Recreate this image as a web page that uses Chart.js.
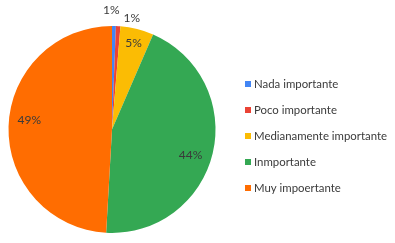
<!DOCTYPE html>
<html><head><meta charset="utf-8">
<script src="https://cdn.jsdelivr.net/npm/chart.js@4/dist/chart.umd.min.js"></script>
<style>html,body{margin:0;padding:0;background:#fff}#wrap{width:395px;height:243px;position:relative}</style>
</head><body><div id="wrap"><canvas id="c" width="395" height="243"></canvas></div>
<script>
const categories = ["Nada importante","Poco importante","Medianamente importante","Inmportante","Muy impoertante"];
const values = [0.6, 0.7, 5.2, 44.4, 49.1];
const valueLabels = ["1%","1%","5%","44%","49%"];
const colors = ["#4285F4","#EA4335","#FBBC04","#34A853","#FF6D01"];

const FONT = "Lato, 'Liberation Sans', sans-serif";

const labelPlugin = {
  id: 'sliceLabels',
  afterDatasetsDraw(chart, args, opts) {
    const ctx = chart.ctx;
    const meta = chart.getDatasetMeta(0);
    ctx.save();
    ctx.font = "12px " + FONT;
    ctx.fillStyle = "#3a3a3a";
    ctx.textAlign = "center";
    ctx.textBaseline = "middle";
    meta.data.forEach((arc, i) => {
      const p = arc.getProps(['x','y','startAngle','endAngle','outerRadius'], true);
      const mid = (p.startAngle + p.endAngle) / 2;
      const f = opts.radial[i];
      const r = p.outerRadius * f;
      const o = opts.shift[i];
      const x = p.x + Math.cos(mid) * r + o[0];
      const y = p.y + Math.sin(mid) * r + o[1];
      ctx.fillText(valueLabels[i], x, y);
    });
    ctx.restore();
  }
};

const legendPlugin = {
  id: 'sideLegend',
  afterDraw(chart, args, opts) {
    const ctx = chart.ctx;
    ctx.save();
    ctx.font = "11.4px " + FONT;
    ctx.textBaseline = "middle";
    ctx.textAlign = "left";
    categories.forEach((c, i) => {
      const y = opts.top + i * opts.step;
      ctx.fillStyle = colors[i];
      ctx.fillRect(opts.left, y - 3, 6, 6);
      ctx.fillStyle = "#3a3a3a";
      ctx.fillText(c, opts.left + 9, y);
    });
    ctx.restore();
  }
};

new Chart(document.getElementById('c'), {
  type: 'pie',
  data: { labels: categories, datasets: [{ data: values, backgroundColor: colors, borderWidth: 0 }] },
  options: {
    responsive: false,
    animation: false,
    layout: { padding: { left: 0, right: 171, top: 26, bottom: 10 } },
    plugins: {
      legend: { display: false },
      tooltip: { enabled: false },
      sliceLabels: {
        radial: [1.15, 1.1, 0.86, 0.8, 0.8],
        shift: [[-3, 0], [13, 2], [0, 0], [-2, 7], [0, -7]]
      },
      sideLegend: { left: 245, top: 84, step: 26 }
    }
  },
  plugins: [labelPlugin, legendPlugin]
});
</script></body></html>
